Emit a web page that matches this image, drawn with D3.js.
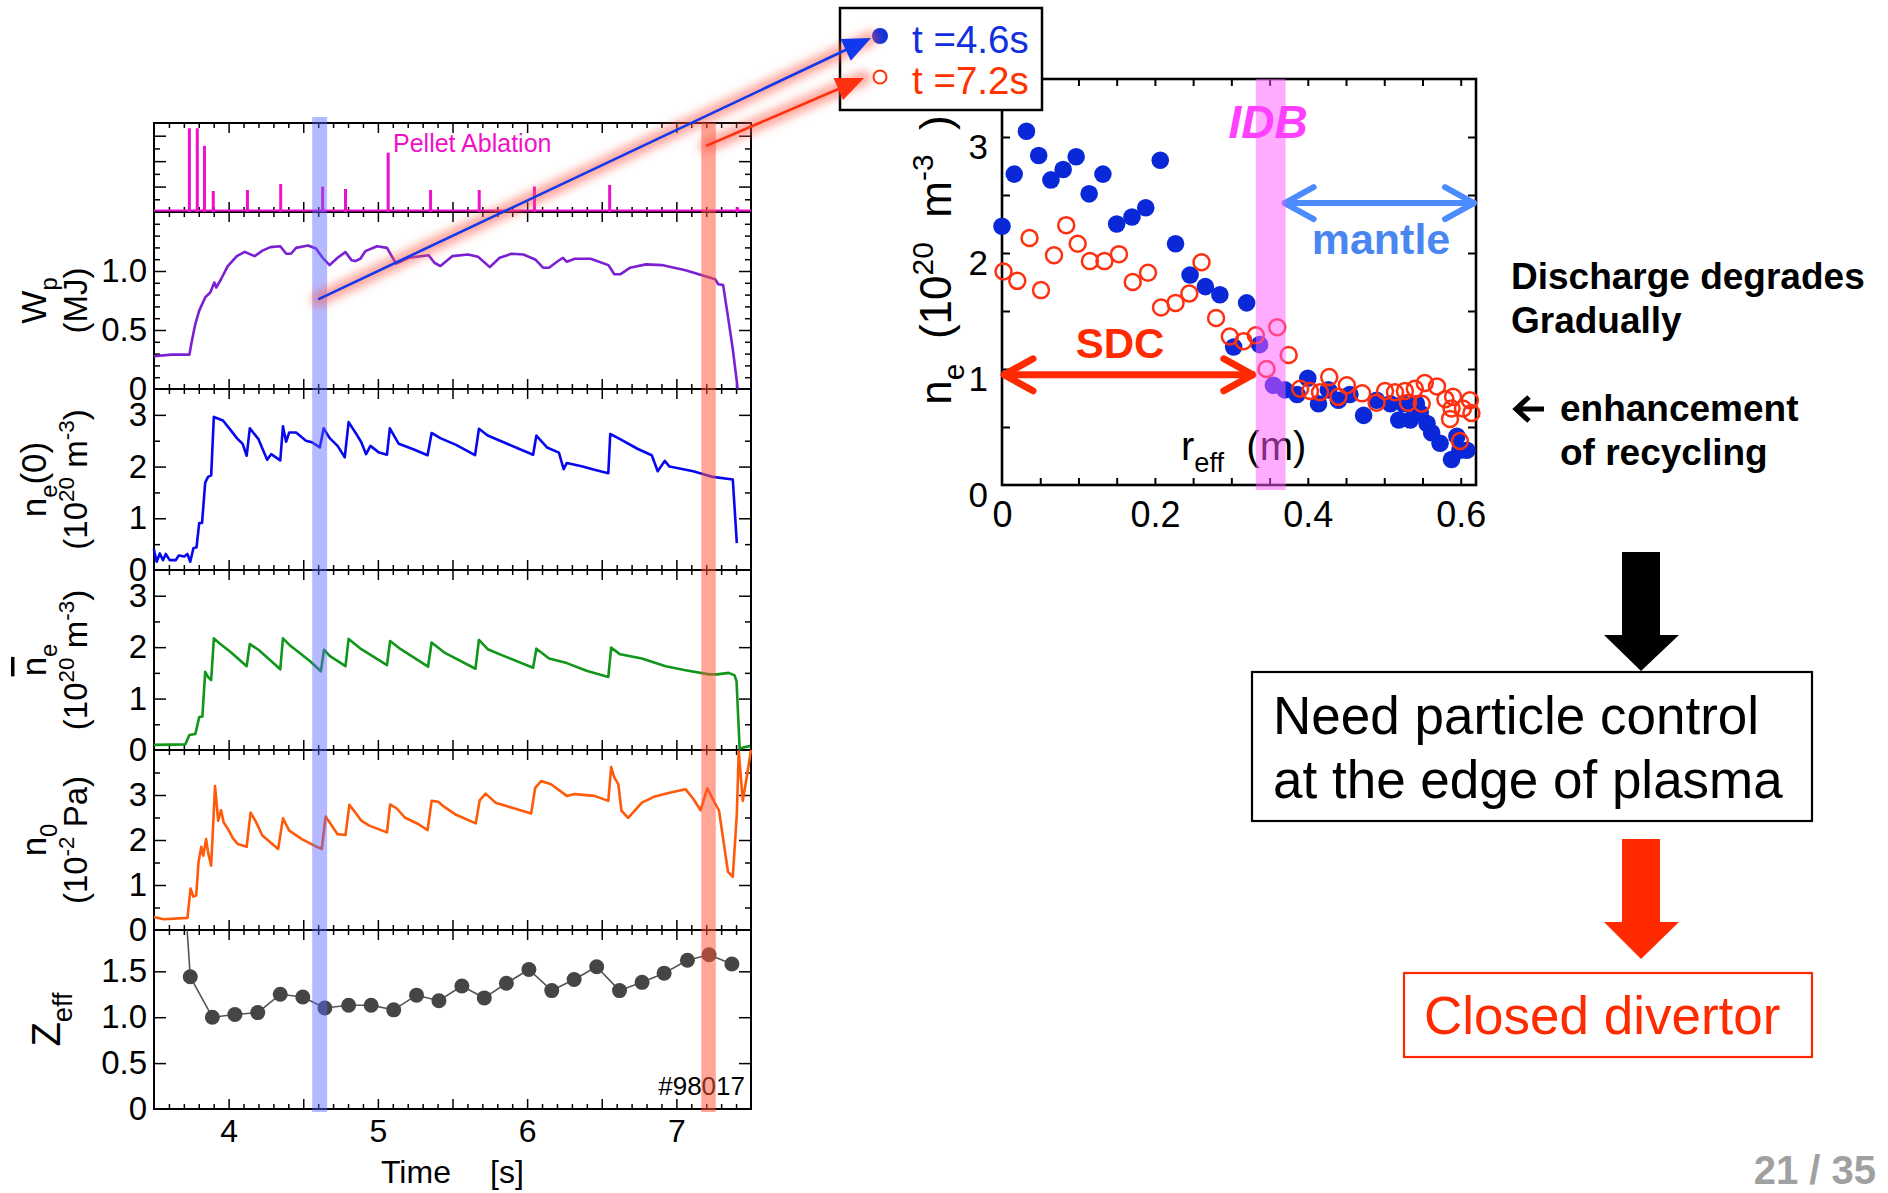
<!DOCTYPE html>
<html>
<head>
<meta charset="utf-8">
<script src="https://cdn.jsdelivr.net/npm/d3@7"></script>
<style>
    body { margin: 0; background: #fff; }
    svg { display: block; font-family: "Liberation Sans", Arial, sans-serif; }
</style>
</head>
<body>
<div id="chart"></div>
<script>
'use strict';

/*
Data
 */

// Time traces, shot #98017: [time (s), value]
const pelletT = [3.737, 3.79, 3.838, 3.897, 4.126, 4.349, 4.63, 4.783, 5.069, 5.353, 5.679, 6.049, 6.553, 7.41];
const pelletH = [6.59, 6.59, 5.2, 1.65, 1.73, 2.2, 2.0, 1.81, 4.67, 1.73, 1.73, 2.0, 2.13, 0.37];

const wp = [[3.499,0.277],[3.618,0.291],[3.737,0.291],[3.75,0.384],[3.777,0.552],[3.803,0.664],[3.843,0.776],
    [3.877,0.818],[3.904,0.902],[3.917,0.86],[3.949,0.93],[3.994,1.042],[4.055,1.126],[4.108,1.162],[4.174,1.126],
    [4.227,1.173],[4.28,1.202],[4.346,1.21],[4.386,1.146],[4.418,1.146],[4.452,1.196],[4.532,1.216],[4.585,1.19],
    [4.63,1.112],[4.677,1.05],[4.73,1.112],[4.783,1.16],[4.823,1.092],[4.85,1.084],[4.884,1.106],[4.916,1.168],
    [4.995,1.21],[5.061,1.196],[5.122,1.062],[5.207,1.112],[5.34,1.134],[5.379,1.07],[5.419,1.042],[5.498,1.126],
    [5.604,1.14],[5.671,1.12],[5.75,1.033],[5.816,1.112],[5.896,1.146],[5.975,1.14],[6.054,1.098],[6.107,1.028],
    [6.147,1.028],[6.2,1.078],[6.24,1.112],[6.266,1.078],[6.319,1.104],[6.425,1.104],[6.545,1.05],[6.584,0.972],
    [6.624,0.972],[6.69,1.028],[6.796,1.056],[6.902,1.05],[7.061,1.006],[7.167,0.966],[7.26,0.93],[7.281,0.888],
    [7.313,0.882],[7.353,0.552],[7.379,0.328],[7.411,0]];

const ne0 = [[3.499,0.40],[3.518,0.16],[3.539,0.32],[3.56,0.19],[3.579,0.31],[3.605,0.19],[3.645,0.19],[3.666,0.28],
    [3.703,0.26],[3.724,0.31],[3.743,0.16],[3.764,0.42],[3.785,0.44],[3.803,0.91],[3.822,0.91],[3.843,1.69],
    [3.862,1.80],[3.883,1.83],[3.901,2.96],[3.936,2.92],[3.962,2.89],[4.015,2.70],[4.055,2.55],[4.094,2.44],
    [4.121,2.21],[4.142,2.74],[4.2,2.53],[4.258,2.13],[4.285,2.24],[4.346,2.12],[4.364,2.78],[4.385,2.48],
    [4.406,2.66],[4.452,2.66],[4.518,2.50],[4.558,2.47],[4.611,2.37],[4.637,2.74],[4.677,2.55],[4.73,2.40],
    [4.778,2.18],[4.804,2.86],[4.849,2.66],[4.889,2.47],[4.921,2.24],[4.95,2.40],[5.008,2.27],[5.061,2.23],
    [5.08,2.74],[5.14,2.44],[5.233,2.34],[5.333,2.22],[5.36,2.65],[5.418,2.55],[5.524,2.42],[5.651,2.22],
    [5.677,2.73],[5.736,2.60],[5.842,2.47],[5.948,2.34],[6.04,2.23],[6.062,2.60],[6.133,2.37],[6.213,2.27],
    [6.245,1.95],[6.266,2.07],[6.372,2.00],[6.451,1.94],[6.544,1.87],[6.557,2.63],[6.623,2.53],[6.742,2.34],
    [6.835,2.22],[6.875,1.91],[6.922,2.11],[6.954,2.00],[7.113,1.91],[7.245,1.80],[7.378,1.75],[7.405,0.52]];

const neBar = [[3.499,0.10],[3.71,0.11],[3.737,0.29],[3.777,0.31],[3.803,0.64],[3.824,0.65],[3.843,1.52],
    [3.862,1.42],[3.883,1.36],[3.901,2.17],[3.936,2.08],[4.015,1.90],[4.121,1.63],[4.142,2.06],[4.2,1.95],
    [4.346,1.57],[4.364,2.17],[4.412,2.03],[4.544,1.73],[4.618,1.53],[4.639,1.95],[4.677,1.83],[4.783,1.63],
    [4.804,2.16],[4.889,1.96],[5.061,1.65],[5.082,2.12],[5.153,1.96],[5.336,1.62],[5.36,2.09],[5.443,1.90],
    [5.654,1.58],[5.677,2.14],[5.736,1.96],[5.842,1.83],[6.04,1.60],[6.062,1.97],[6.147,1.78],[6.266,1.69],
    [6.398,1.54],[6.544,1.42],[6.563,1.99],[6.623,1.86],[6.769,1.78],[6.928,1.63],[7.061,1.55],[7.219,1.47],
    [7.272,1.47],[7.351,1.50],[7.39,1.45],[7.403,1.34],[7.424,0.03],[7.494,0.08]];

const n0 = [[3.499,0.29],[3.565,0.24],[3.724,0.27],[3.745,0.92],[3.764,0.74],[3.783,0.77],[3.798,1.50],
    [3.817,1.85],[3.83,1.65],[3.849,2.02],[3.862,1.73],[3.883,1.43],[3.909,3.20],[3.93,2.43],[3.949,2.66],
    [3.967,2.39],[4.002,2.21],[4.028,2.04],[4.062,1.91],[4.121,1.85],[4.147,2.61],[4.179,2.43],[4.226,2.10],
    [4.332,1.80],[4.364,2.48],[4.406,2.21],[4.491,2.02],[4.571,1.88],[4.624,1.80],[4.65,2.52],[4.677,2.39],
    [4.73,2.13],[4.783,2.11],[4.809,2.78],[4.849,2.61],[4.889,2.43],[4.942,2.32],[5.061,2.17],[5.082,2.79],
    [5.127,2.70],[5.18,2.50],[5.273,2.35],[5.333,2.22],[5.36,2.87],[5.405,2.85],[5.443,2.74],[5.524,2.56],
    [5.656,2.37],[5.682,2.88],[5.722,3.03],[5.788,2.83],[5.894,2.72],[6.027,2.59],[6.054,3.16],[6.094,3.31],
    [6.16,3.24],[6.266,2.98],[6.319,3.02],[6.451,2.98],[6.544,2.87],[6.563,3.62],[6.584,3.39],[6.611,3.24],
    [6.632,2.65],[6.677,2.49],[6.769,2.83],[6.849,2.96],[6.954,3.05],[7.061,3.13],[7.114,2.91],[7.162,2.66],
    [7.207,3.15],[7.233,2.98],[7.286,2.65],[7.325,1.76],[7.346,1.29],[7.378,1.18],[7.405,2.58],[7.418,3.97],
    [7.445,2.87],[7.471,3.39],[7.5,4.0]];

const zeff = [[3.722,1.95],[3.743,1.44],[3.891,1.00],[4.042,1.03],[4.195,1.05],[4.346,1.25],[4.497,1.22],
    [4.645,1.10],[4.804,1.13],[4.955,1.13],[5.106,1.08],[5.259,1.24],[5.409,1.18],[5.563,1.34],[5.713,1.21],
    [5.861,1.37],[6.012,1.52],[6.165,1.29],[6.315,1.41],[6.466,1.55],[6.619,1.29],[6.77,1.38],[6.918,1.48],
    [7.074,1.62],[7.219,1.68],[7.372,1.58]];

// Profiles: [r_eff (m), n_e (1e20 m^-3)]
const profile46 = [[0,2.23],[0.016,2.68],[0.032,3.05],[0.048,2.84],[0.064,2.63],[0.08,2.72],[0.097,2.83],
    [0.114,2.51],[0.132,2.68],[0.15,2.25],[0.17,2.31],[0.188,2.39],[0.207,2.80],[0.227,2.08],[0.246,1.81],
    [0.266,1.71],[0.285,1.64],[0.32,1.57],[0.303,1.19],[0.337,1.21],[0.355,0.86],[0.37,0.82],[0.386,0.78],
    [0.40,0.92],[0.414,0.70],[0.427,0.82],[0.44,0.73],[0.455,0.78],[0.473,0.60],[0.49,0.73],[0.508,0.70],
    [0.519,0.56],[0.525,0.70],[0.534,0.56],[0.542,0.70],[0.547,0.62],[0.556,0.53],[0.562,0.45],[0.573,0.36],
    [0.588,0.22],[0.595,0.42],[0.599,0.30],[0.608,0.30]];
const profile72 = [[0.002,1.84],[0.02,1.76],[0.036,2.13],[0.051,1.68],[0.068,1.98],[0.084,2.24],[0.099,2.08],
    [0.115,1.93],[0.134,1.93],[0.153,1.99],[0.171,1.75],[0.191,1.83],[0.208,1.53],[0.227,1.57],[0.245,1.65],
    [0.261,1.92],[0.28,1.44],[0.298,1.28],[0.316,1.24],[0.332,1.29],[0.36,1.36],[0.346,1.00],[0.375,1.12],
    [0.39,0.83],[0.403,0.81],[0.416,0.80],[0.428,0.93],[0.44,0.76],[0.451,0.86],[0.471,0.79],[0.49,0.71],
    [0.501,0.81],[0.514,0.80],[0.527,0.81],[0.531,0.71],[0.54,0.83],[0.549,0.70],[0.553,0.88],[0.569,0.85],
    [0.58,0.74],[0.586,0.57],[0.588,0.66],[0.59,0.76],[0.599,0.38],[0.603,0.66],[0.612,0.73],[0.614,0.62]];

// Tick labels
const timeTickVals = [4, 5, 6, 7];
const wpTicks = [0, 0.5, 1.0];
const densTicks = [0, 1, 2, 3];
const zeffTicks = [0, 0.5, 1.0, 1.5];
const rTicks = [0, 0.2, 0.4, 0.6];
const neTicks = [0, 1, 2, 3];

// Highlighted times and regions
const tBlue = 4.6;
const tRed = 7.2;
const idbRange = [0.332, 0.371];

/*
Layout
 */
const W = 1888, H = 1193;
const svg = d3.select('#chart').append('svg').attr('width', W).attr('height', H);
const defs = svg.append('defs');
defs.append('filter').attr('id', 'glow')
    .attr('filterUnits', 'userSpaceOnUse')
    .attr('x', 0).attr('y', 0).attr('width', W).attr('height', H)
    .append('feGaussianBlur').attr('stdDeviation', 5);

/* text with sub/superscripts */
function rich(sel, parts, size) {
    let shift = 0;
    parts.forEach(([t, k]) => {
        const target = k === 'sub' ? size * 0.3 : k === 'sup' ? -size * 0.4 : 0;
        sel.append('tspan')
            .attr('dy', target - shift)
            .attr('font-size', k === 'n' ? size : size * 0.68)
            .text(t);
        shift = target;
    });
    return sel;
}

function styleAxis(g, width) {
    g.select('.domain').remove();
    g.selectAll('line').attr('stroke', '#000').attr('stroke-width', width || 1.5);
}

/*
1. Left: time traces
 */
const x = d3.scaleLinear().domain([3.5, 7.5]).range([154, 751]);
const left = svg.append('g').attr('class', 'leftG');

const panels = [
    {id: 'pel', top: 123, bottom: 212, domain: [0, 7], major: [2, 4, 6], minor: [1, 3, 5], labels: [], fmt: d3.format('')},
    {id: 'wp', top: 212, bottom: 389, domain: [0, 1.5], major: [0.5, 1.0],
        minor: d3.range(1, 15).map(d => d / 10).filter(d => d !== 0.5 && d !== 1), labels: wpTicks,
        fmt: d => d === 0 ? '0' : d3.format('.1f')(d)},
    {id: 'ne0', top: 389, bottom: 570, domain: [0, 3.5], major: [1, 2, 3], minor: [0.5, 1.5, 2.5], labels: densTicks, fmt: d3.format('d')},
    {id: 'neb', top: 570, bottom: 750, domain: [0, 3.5], major: [1, 2, 3], minor: [0.5, 1.5, 2.5], labels: densTicks, fmt: d3.format('d')},
    {id: 'n0', top: 750, bottom: 930, domain: [0, 4], major: [1, 2, 3], minor: [0.5, 1.5, 2.5, 3.5], labels: densTicks, fmt: d3.format('d')},
    {id: 'zeff', top: 930, bottom: 1109, domain: [0, 1.95], major: [0.5, 1.0, 1.5], minor: [], labels: zeffTicks,
        fmt: d => d === 0 ? '0' : d3.format('.1f')(d)}
];

const xMinor = d3.range(36, 75).map(d => d / 10).filter(d => Math.round(d * 10) % 5 !== 0);
const xMajor = d3.range(8, 15).map(d => d / 2);

panels.forEach(p => {
    p.y = d3.scaleLinear().domain(p.domain).range([p.bottom, p.top]);
    const g = left.append('g').attr('class', `panel ${p.id}`);

    // x ticks, top and bottom, pointing in
    [[xMinor, 5], [xMajor, 10]].forEach(([vals, len]) => {
        g.append('g').attr('transform', `translate(0,${p.bottom})`)
            .call(d3.axisBottom(x).tickValues(vals).tickSize(-len).tickFormat(''))
            .call(styleAxis);
        g.append('g').attr('transform', `translate(0,${p.top})`)
            .call(d3.axisTop(x).tickValues(vals).tickSize(-len).tickFormat(''))
            .call(styleAxis);
    });
    // y ticks, left and right
    [[p.minor, 6], [p.major, 12]].forEach(([vals, len]) => {
        g.append('g').attr('transform', `translate(${x.range()[0]},0)`)
            .call(d3.axisLeft(p.y).tickValues(vals).tickSize(-len).tickFormat(''))
            .call(styleAxis);
        g.append('g').attr('transform', `translate(${x.range()[1]},0)`)
            .call(d3.axisRight(p.y).tickValues(vals).tickSize(-len).tickFormat(''))
            .call(styleAxis);
    });
    // tick labels
    if (p.labels.length) {
        const ax = g.append('g').attr('transform', `translate(${x.range()[0]},0)`)
            .call(d3.axisLeft(p.y).tickValues(p.labels).tickSize(0).tickPadding(7).tickFormat(p.fmt));
        ax.select('.domain').remove();
        ax.selectAll('text').attr('font-size', 33).attr('font-family', null).attr('fill', '#000');
    }
    // frame
    g.append('rect')
        .attr('x', x.range()[0]).attr('y', p.top)
        .attr('width', x.range()[1] - x.range()[0]).attr('height', p.bottom - p.top)
        .attr('fill', 'none').attr('stroke', '#000').attr('stroke-width', 2);
});

const P = {};
panels.forEach(p => P[p.id] = p);

// time axis labels
const tAx = left.append('g').attr('transform', `translate(0,${P.zeff.bottom})`)
    .call(d3.axisBottom(x).tickValues(timeTickVals).tickSize(0).tickPadding(10).tickFormat(d3.format('d')));
tAx.select('.domain').remove();
tAx.selectAll('text').attr('font-size', 32).attr('font-family', null).attr('fill', '#000');
left.append('text').attr('x', 381).attr('y', 1183).attr('font-size', 32).text('Time');
left.append('text').attr('x', 490).attr('y', 1183).attr('font-size', 32).text('[s]');

// Pellet ablation spikes
const pel = left.append('g');
pel.append('line')
    .attr('x1', x(3.5)).attr('x2', x(7.5))
    .attr('y1', P.pel.y(0.12)).attr('y2', P.pel.y(0.12))
    .attr('stroke', '#ee10cc').attr('stroke-width', 2);
pel.selectAll('.spike')
    .data(pelletT.map((t, i) => [t, pelletH[i]]))
    .join('line')
    .attr('class', 'spike')
    .attr('x1', d => x(d[0])).attr('x2', d => x(d[0]))
    .attr('y1', P.pel.y(0)).attr('y2', d => P.pel.y(d[1]))
    .attr('stroke', '#ee10cc').attr('stroke-width', 3);
pel.append('text')
    .attr('x', 393).attr('y', 152)
    .attr('font-size', 25).attr('fill', '#f010c8')
    .text('Pellet Ablation');

// Traces
const traces = [
    {data: wp, p: P.wp, color: '#7a1fd2'},
    {data: ne0, p: P.ne0, color: '#0808ee'},
    {data: neBar, p: P.neb, color: '#10961a'},
    {data: n0, p: P.n0, color: '#ff5a0a'},
    {data: zeff, p: P.zeff, color: '#555'}
];
traces.forEach(tr => {
    left.append('path')
        .datum(tr.data)
        .attr('fill', 'none')
        .attr('stroke', tr.color)
        .attr('stroke-width', tr.p.id === 'zeff' ? 1.6 : 2.6)
        .attr('stroke-linejoin', 'round')
        .attr('d', d3.line().x(d => x(d[0])).y(d => tr.p.y(d[1])));
});
left.selectAll('.zdot')
    .data(zeff.filter(d => d[1] < 1.9))
    .join('circle')
    .attr('class', 'zdot')
    .attr('cx', d => x(d[0])).attr('cy', d => P.zeff.y(d[1]))
    .attr('r', 7.5)
    .attr('fill', '#454545');

left.append('text')
    .attr('x', 745).attr('y', 1095)
    .attr('text-anchor', 'end')
    .attr('font-size', 26)
    .text('#98017');

// Highlight bands
left.append('rect')
    .attr('x', x(tBlue - 0.04)).attr('width', x(tBlue + 0.06) - x(tBlue - 0.04))
    .attr('y', 117).attr('height', 1112 - 117)
    .attr('fill', 'rgb(90,100,255)').attr('opacity', 0.45);
left.append('rect')
    .attr('x', x(tRed - 0.033)).attr('width', x(tRed + 0.064) - x(tRed - 0.033))
    .attr('y', 123).attr('height', 1112 - 123)
    .attr('fill', 'rgb(255,85,55)').attr('opacity', 0.52);

// Axis titles (rotated)
const titles = [
    {p: P.wp, l1: [['W', 'n'], ['p', 'sub']], l2: [['(MJ)', 'n']]},
    {p: P.ne0, l1: [['n', 'n'], ['e', 'sub'], ['(0)', 'n']], l2: [['(10', 'n'], ['20', 'sup'], [' m', 'n'], ['-3', 'sup'], [')', 'n']]},
    {p: P.neb, l1: [['n', 'n'], ['e', 'sub']], l2: [['(10', 'n'], ['20', 'sup'], [' m', 'n'], ['-3', 'sup'], [')', 'n']]},
    {p: P.n0, l1: [['n', 'n'], ['0', 'sub']], l2: [['(10', 'n'], ['-2', 'sup'], [' Pa)', 'n']]},
    {p: P.zeff, l1: [['Z', 'n'], ['eff', 'sub']], l2: null}
];
titles.forEach(tt => {
    const cy = (tt.p.top + tt.p.bottom) / 2;
    const t1 = left.append('text')
        .attr('transform', `translate(${tt.l2 ? 46 : 60},${cy}) rotate(-90)`)
        .attr('text-anchor', 'middle')
        .style('white-space', 'pre');
    rich(t1, tt.l1, tt.p.id === 'zeff' ? 40 : 35);
    if (tt.p.id === 'neb') t1.select('tspan').style('text-decoration', 'overline');
    if (tt.l2) {
        const t2 = left.append('text')
            .attr('transform', `translate(87,${cy}) rotate(-90)`)
            .attr('text-anchor', 'middle')
            .style('white-space', 'pre');
        rich(t2, tt.l2, 33);
    }
});

/*
2. Right: density profiles
 */
const rx = d3.scaleLinear().domain([0, 0.62]).range([1002, 1476]);
const ry = d3.scaleLinear().domain([0, 3.5]).range([485, 79]);
const right = svg.append('g').attr('class', 'rightG');

const rMinor = d3.range(1, 13).map(d => d * 0.05);
const yMinor = d3.range(1, 7).map(d => d * 0.5);
right.append('g').attr('transform', `translate(0,${ry(0)})`)
    .call(d3.axisBottom(rx).tickValues(rMinor).tickSize(-7).tickFormat('')).call(styleAxis, 2);
right.append('g').attr('transform', `translate(0,${ry(3.5)})`)
    .call(d3.axisTop(rx).tickValues(rMinor).tickSize(-7).tickFormat('')).call(styleAxis, 2);
right.append('g').attr('transform', `translate(${rx(0)},0)`)
    .call(d3.axisLeft(ry).tickValues(yMinor).tickSize(-8).tickFormat('')).call(styleAxis, 2);
right.append('g').attr('transform', `translate(${rx(0.62)},0)`)
    .call(d3.axisRight(ry).tickValues(yMinor).tickSize(-8).tickFormat('')).call(styleAxis, 2);
right.append('rect')
    .attr('x', rx(0)).attr('y', ry(3.5))
    .attr('width', rx(0.62) - rx(0)).attr('height', ry(0) - ry(3.5))
    .attr('fill', 'none').attr('stroke', '#000').attr('stroke-width', 2.6);

const ryAx = right.append('g').attr('transform', `translate(${rx(0)},0)`)
    .call(d3.axisLeft(ry).tickValues(neTicks).tickSize(0).tickPadding(14).tickFormat(d3.format('d')));
ryAx.select('.domain').remove();
ryAx.selectAll('text').attr('font-size', 35).attr('font-family', null).attr('fill', '#000').attr('dy', '0.62em');
const rxAx = right.append('g').attr('transform', `translate(0,${ry(0)})`)
    .call(d3.axisBottom(rx).tickValues(rTicks).tickSize(0).tickPadding(16).tickFormat(d => d === 0 ? '0' : d3.format('.1f')(d)));
rxAx.select('.domain').remove();
rxAx.selectAll('text').attr('font-size', 36).attr('font-family', null).attr('fill', '#000');

// y title
const yTitle = right.append('text')
    .attr('transform', `translate(951,${260}) rotate(-90)`)
    .attr('text-anchor', 'middle')
    .style('white-space', 'pre');
rich(yTitle, [['n', 'n'], ['e', 'sub'], ['  (10', 'n'], ['20', 'sup'], ['  m', 'n'], ['-3', 'sup'], ['  )', 'n']], 44);

// points
right.selectAll('.p46')
    .data(profile46)
    .join('circle')
    .attr('class', 'p46')
    .attr('cx', d => rx(d[0])).attr('cy', d => ry(d[1]))
    .attr('r', 8.8)
    .attr('fill', '#0a28d8');
right.selectAll('.p72')
    .data(profile72)
    .join('circle')
    .attr('class', 'p72')
    .attr('cx', d => rx(d[0])).attr('cy', d => ry(d[1]))
    .attr('r', 8)
    .attr('fill', 'none')
    .attr('stroke', '#ff3010')
    .attr('stroke-width', 2.5);

/* double-headed chevron arrow */
function dblArrow(g, x1, x2, y, color, w) {
    g.append('line').attr('x1', x1).attr('x2', x2).attr('y1', y).attr('y2', y)
        .attr('stroke', color).attr('stroke-width', w);
    g.append('path')
        .attr('d', `M${x1 + 31},${y - 16} L${x1 + 2},${y} L${x1 + 31},${y + 16} M${x2 - 31},${y - 16} L${x2 - 2},${y} L${x2 - 31},${y + 16}`)
        .attr('fill', 'none').attr('stroke', color).attr('stroke-width', w)
        .attr('stroke-linecap', 'round').attr('stroke-linejoin', 'round');
}
dblArrow(right, rx(0), rx(idbRange[0]) - 1, ry(0.95), '#ff2a00', 7);
dblArrow(right, rx(idbRange[1]) - 3, rx(0.62), ry(2.43), '#4d8cff', 6);

right.append('text')
    .attr('x', 1120).attr('y', 358)
    .attr('text-anchor', 'middle')
    .attr('font-size', 42).attr('font-weight', 'bold').attr('fill', '#ff2a00')
    .text('SDC');
right.append('text')
    .attr('x', 1381).attr('y', 254)
    .attr('text-anchor', 'middle')
    .attr('font-size', 43).attr('font-weight', 'bold').attr('fill', '#4a86f2')
    .text('mantle');

// r_eff label
const rLab = right.append('text').attr('x', 1181).attr('y', 460).style('white-space', 'pre');
rich(rLab, [['r', 'n'], ['eff', 'sub'], ['  (m)', 'n']], 40);

// IDB band
right.append('rect')
    .attr('x', rx(idbRange[0])).attr('width', rx(idbRange[1]) - rx(idbRange[0]))
    .attr('y', 79).attr('height', 490 - 79)
    .attr('fill', 'rgb(255,90,255)').attr('opacity', 0.5);
right.append('text')
    .attr('x', 1268).attr('y', 138)
    .attr('text-anchor', 'middle')
    .attr('font-size', 46).attr('font-weight', 'bold').attr('font-style', 'italic')
    .attr('fill', '#ff40ff')
    .text('IDB');

// legend
const leg = svg.append('g').attr('class', 'legend');
leg.append('rect')
    .attr('x', 840).attr('y', 8).attr('width', 202).attr('height', 102)
    .attr('fill', '#fff').attr('stroke', '#000').attr('stroke-width', 2.5);
leg.append('circle').attr('cx', 880).attr('cy', 36).attr('r', 8).attr('fill', '#1230dd');
leg.append('circle').attr('cx', 880).attr('cy', 77).attr('r', 6.5)
    .attr('fill', 'none').attr('stroke', '#ff3300').attr('stroke-width', 2);
leg.append('text').attr('x', 912).attr('y', 53).attr('font-size', 38.5).attr('fill', '#1230dd').text(`t =${tBlue}s`);
leg.append('text').attr('x', 912).attr('y', 94).attr('font-size', 38.5).attr('fill', '#ff3300').text(`t =${tRed}s`);

// connector arrows from the traces to the legend
const links = [
    {from: [x(tBlue), P.wp.y(0.76)], to: [871, 38], color: '#1238ee'},
    {from: [x(tRed), P.pel.y(5.2)], to: [864, 78], color: '#ff3010'}
];
const lk = svg.append('g').attr('class', 'links');
links.forEach(l => {
    lk.append('line')
        .attr('x1', l.from[0]).attr('y1', l.from[1]).attr('x2', l.to[0]).attr('y2', l.to[1])
        .attr('stroke', '#ff5a4a').attr('stroke-width', 14).attr('opacity', 0.55)
        .attr('stroke-linecap', 'round')
        .attr('filter', 'url(#glow)');
});
links.forEach(l => {
    const dx = l.to[0] - l.from[0], dy = l.to[1] - l.from[1];
    const len = Math.hypot(dx, dy);
    const ux = dx / len, uy = dy / len;
    const L = 28, Wd = 12;
    const bx = l.to[0] - L * ux, by = l.to[1] - L * uy;
    lk.append('line')
        .attr('x1', l.from[0]).attr('y1', l.from[1]).attr('x2', bx + 4 * ux).attr('y2', by + 4 * uy)
        .attr('stroke', l.color).attr('stroke-width', 2.6);
    lk.append('path')
        .attr('d', `M${l.to[0]},${l.to[1]} L${bx - Wd * uy},${by + Wd * ux} L${bx + Wd * uy},${by - Wd * ux} Z`)
        .attr('fill', l.color);
});

/*
3. Comments and flow chart
 */
const notes = svg.append('g').attr('class', 'notes').attr('font-weight', 'bold').attr('font-size', 37);
notes.append('text').attr('x', 1511).attr('y', 289).text('Discharge degrades');
notes.append('text').attr('x', 1511).attr('y', 333).text('Gradually');
notes.append('path')
    .attr('d', 'M1544,409 L1517,409 M1529,397 L1516,409 L1529,421')
    .attr('fill', 'none').attr('stroke', '#000').attr('stroke-width', 5)
    .attr('stroke-linejoin', 'miter');
notes.append('text').attr('x', 1560).attr('y', 421).text('enhancement');
notes.append('text').attr('x', 1560).attr('y', 465).text('of recycling');

const flow = svg.append('g').attr('class', 'flow');
function blockArrow(g, top, neck, tip, color) {
    g.append('path')
        .attr('d', `M1622,${top} L1660,${top} L1660,${neck} L1679,${neck} L1641,${tip} L1604,${neck} L1622,${neck} Z`)
        .attr('fill', color);
}
blockArrow(flow, 552, 635, 671, '#000');
flow.append('rect')
    .attr('x', 1252).attr('y', 672).attr('width', 560).attr('height', 149)
    .attr('fill', 'none').attr('stroke', '#000').attr('stroke-width', 2.2);
flow.append('text').attr('x', 1273).attr('y', 734).attr('font-size', 53).text('Need particle control');
flow.append('text').attr('x', 1273).attr('y', 798).attr('font-size', 53).text('at the edge of plasma');
blockArrow(flow, 839, 922, 959, '#ff2a00');
flow.append('rect')
    .attr('x', 1404).attr('y', 973).attr('width', 408).attr('height', 84)
    .attr('fill', 'none').attr('stroke', '#ff2a00').attr('stroke-width', 2.2);
flow.append('text').attr('x', 1424).attr('y', 1034).attr('font-size', 53).attr('fill', '#ff2a00').text('Closed divertor');

svg.append('text')
    .attr('x', 1876).attr('y', 1184)
    .attr('text-anchor', 'end')
    .attr('font-size', 40).attr('font-weight', 'bold').attr('fill', '#a0a0a0')
    .text('21 / 35');
</script>
</body>
</html>
